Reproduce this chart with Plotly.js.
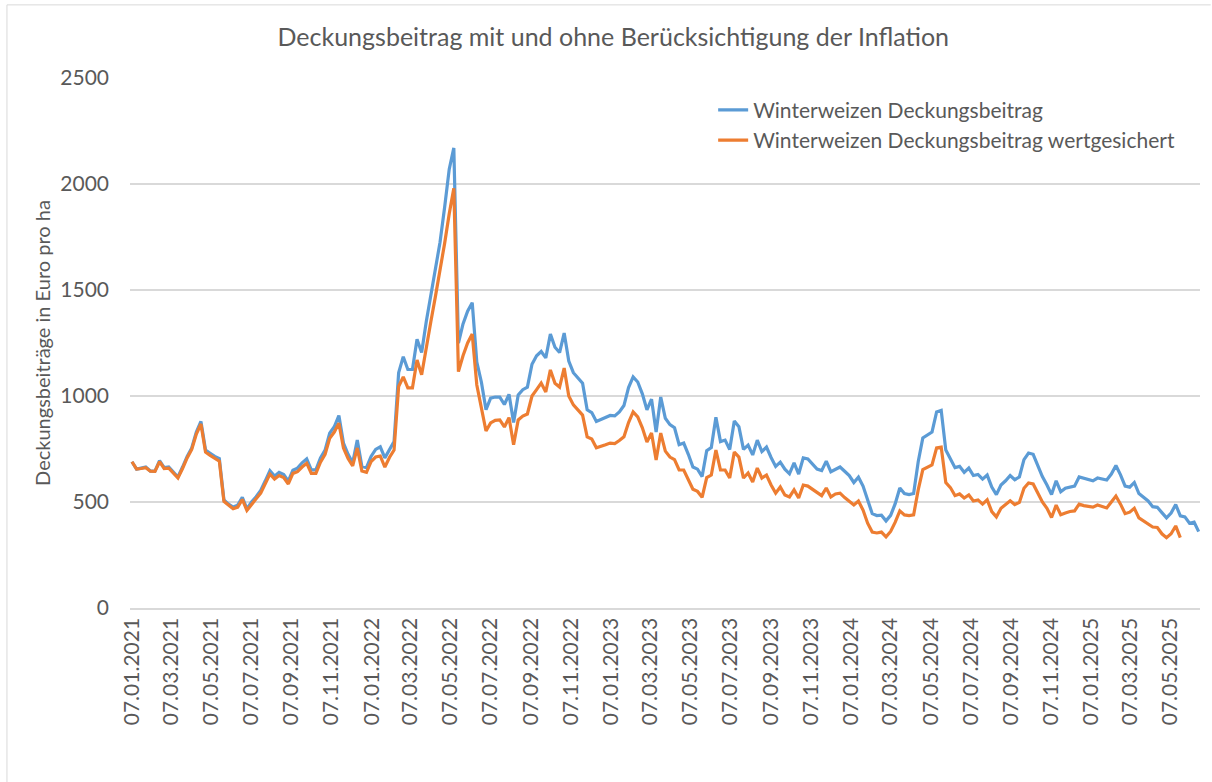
<!DOCTYPE html>
<html>
<head>
<meta charset="utf-8">
<script src="https://cdn.plot.ly/plotly-3.0.1.min.js"></script>
<style>html,body{margin:0;padding:0;background:#fff;}#chart{width:1212px;height:782px;}</style>
</head>
<body>
<div id="chart"></div>
<script>
// Weekly observations, first week 07.01.2021
const startDate = "2021-01-07";
const seriesNames = ["Winterweizen Deckungsbeitrag", "Winterweizen Deckungsbeitrag wertgesichert"];

const deckungsbeitrag = [
690,655,660,665,646,646,695,662,665,640,618,665,715,755,830,880,745,730,715,705,
510,490,476,485,522,468,500,525,555,600,648,622,640,630,598,650,660,685,703,652,
652,708,745,825,855,908,778,725,685,792,668,662,715,748,760,708,750,785,1110,1185,
1125,1125,1268,1205,1350,1470,1600,1725,1890,2070,2170,1250,1340,1400,1440,1160,1065,935,990,995,
995,960,1008,875,1005,1030,1042,1150,1190,1210,1180,1292,1230,1205,1297,1165,1110,1085,1060,935,
922,880,888,897,908,906,925,955,1040,1090,1066,1010,935,985,830,995,895,865,850,770,
778,725,665,655,620,742,757,900,785,792,748,882,855,748,768,722,792,738,759,710,
668,688,655,633,684,632,708,703,680,655,648,693,643,655,665,645,625,592,617,575,
510,445,436,438,411,437,492,566,540,535,540,690,802,816,830,925,932,745,705,662,
668,640,660,625,630,608,627,570,535,580,600,625,605,618,700,731,725,670,620,580,
535,600,548,565,570,575,618,612,608,600,613,608,604,632,672,628,575,570,592,540,
520,505,478,475,450,425,448,488,435,430,400,405,360
];

const deckungsbeitragWertgesichert = [
690,655,658,662,645,644,690,658,660,635,613,658,708,748,820,868,735,720,705,693,
503,483,468,476,512,460,490,515,542,585,632,608,625,615,585,635,643,665,683,635,
635,688,725,800,830,872,755,705,670,755,646,640,690,712,717,665,710,745,1045,1090,
1038,1038,1170,1100,1235,1350,1470,1590,1720,1860,1980,1115,1190,1250,1292,1052,948,835,873,885,
887,854,898,770,887,905,915,1000,1030,1061,1019,1123,1060,1042,1132,1000,958,935,910,807,
797,756,765,770,778,776,790,808,875,925,901,850,783,825,698,825,740,712,700,651,
651,604,560,550,522,615,627,745,651,651,613,736,712,613,637,594,660,613,627,580,
542,571,533,524,557,519,580,575,560,542,530,566,524,538,542,521,503,486,505,462,
400,358,354,358,336,361,405,458,439,436,439,557,653,665,675,755,759,592,568,530,
538,519,533,505,510,490,510,455,430,470,486,506,488,498,565,590,585,542,500,470,
427,485,440,448,455,458,490,483,481,476,486,480,472,500,528,490,445,452,470,425,
410,398,382,380,350,332,350,387,332
];

function weeklyDates(start, n) {
  const out = [];
  const d0 = new Date(start + "T00:00:00Z");
  for (let i = 0; i < n; i++) {
    const d = new Date(d0.getTime() + i * 7 * 86400000);
    out.push(d.toISOString().slice(0, 10));
  }
  return out;
}

const FONT = "Lato, 'Open Sans', sans-serif";
const GREY = "#595959";

const traces = [
  {
    x: weeklyDates(startDate, deckungsbeitrag.length),
    y: deckungsbeitrag,
    name: seriesNames[0],
    type: "scatter",
    mode: "lines",
    line: {color: "#5B9BD5", width: 3.2}
  },
  {
    x: weeklyDates(startDate, deckungsbeitragWertgesichert.length),
    y: deckungsbeitragWertgesichert,
    name: seriesNames[1],
    type: "scatter",
    mode: "lines",
    line: {color: "#ED7D31", width: 3.2}
  }
];

const layout = {
  width: 1212,
  height: 782,
  paper_bgcolor: "#ffffff",
  plot_bgcolor: "#ffffff",
  margin: {l: 130, r: 12, t: 78, b: 174},
  font: {family: FONT, color: GREY},
  title: {
    text: "Deckungsbeitrag mit und ohne Berücksichtigung der Inflation",
    font: {family: FONT, size: 25, color: GREY},
    x: 0.506, xanchor: "center",
    y: 0.953, yanchor: "middle"
  },
  showlegend: true,
  legend: {
    x: 0.545, y: 0.978, xanchor: "left", yanchor: "top",
    bgcolor: "rgba(0,0,0,0)",
    font: {family: FONT, size: 21, color: GREY},
    tracegroupgap: 0
  },
  xaxis: {
    type: "date",
    range: ["2021-01-04", "2025-06-21"],
    tick0: "2021-01-07",
    dtick: "M2",
    tickformat: "%d.%m.%Y",
    tickangle: -90,
    tickfont: {family: FONT, size: 21, color: GREY},
    showgrid: false,
    showline: true,
    linecolor: "#d9d9d9",
    linewidth: 1.5,
    ticks: "",
    zeroline: false
  },
  yaxis: {
    range: [0, 2500],
    dtick: 500,
    tick0: 0,
    tickfont: {family: FONT, size: 21, color: GREY},
    showgrid: true,
    gridcolor: "#d9d9d9",
    gridwidth: 1.5,
    zeroline: false,
    showline: false,
    ticks: "",
    ticklabelstandoff: 20,
    title: {
      text: "Deckungsbeiträge in Euro pro ha",
      font: {family: FONT, size: 20, color: GREY},
      standoff: 4
    }
  },
  shapes: [
    {type: "line", xref: "paper", yref: "paper", x0: -0.115, x1: 1.01, y0: 1.138, y1: 1.138,
     line: {color: "#d9d9d9", width: 1}},
    {type: "line", xref: "paper", yref: "paper", x0: -0.115, x1: -0.115, y0: 1.138, y1: -0.33,
     line: {color: "#d9d9d9", width: 1}}
  ]
};

Plotly.newPlot("chart", traces, layout, {displayModeBar: false, staticPlot: true});
</script>
</body>
</html>
